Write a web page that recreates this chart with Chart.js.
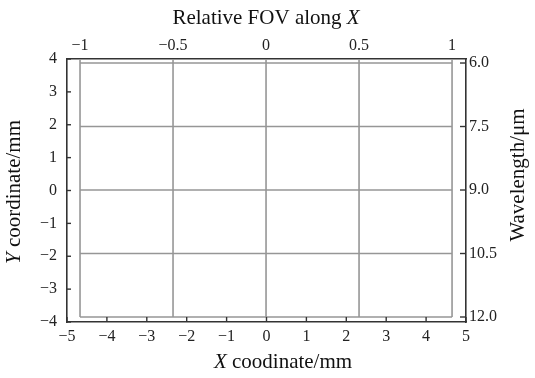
<!DOCTYPE html>
<html lang="en">
<head>
    <meta charset="UTF-8">
    <title>Relative FOV along X</title>
    <script src="https://cdn.jsdelivr.net/npm/chart.js"></script>
    <style>
        body { margin: 0; background: #fff; }
        #grafica { display: block; }
    </style>
</head>
<body>
    <canvas id="grafica" width="535" height="378"></canvas>
    <script>
        // tick values and labels
        const xTicks = [-5, -4, -3, -2, -1, 0, 1, 2, 3, 4, 5];
        const xLabels = ['−5', '−4', '−3', '−2', '−1', '0', '1', '2', '3', '4', '5'];
        const yTicks = [-4, -3, -2, -1, 0, 1, 2, 3, 4];
        const yLabels = ['−4', '−3', '−2', '−1', '0', '1', '2', '3', '4'];
        const fovTicks = [-1, -0.5, 0, 0.5, 1];
        const fovLabels = ['−1', '−0.5', '0', '0.5', '1'];
        const waveTicks = [6.0, 7.5, 9.0, 10.5, 12.0];
        const waveLabels = ['6.0', '7.5', '9.0', '10.5', '12.0'];

        const serif = '"Liberation Serif", "DejaVu Serif", serif';
        const tickFont = { family: serif, size: 16 };
        const dark = '#333', gray = '#969696';

        const setTicks = vals => s => { s.ticks = vals.map(v => ({ value: v })); };

        // inner grid box (top/right scales), inward tick marks, titles with italic letters
        const frame = {
            id: 'frame',
            afterDraw(chart) {
                const { ctx, chartArea: a, scales: { x, y, x2, y2 } } = chart;
                const ln = (x0, y0, x1, y1) => { ctx.beginPath(); ctx.moveTo(x0, y0); ctx.lineTo(x1, y1); ctx.stroke(); };
                ctx.save();
                const l = x2.getPixelForValue(fovTicks[0]), r = x2.getPixelForValue(fovTicks[fovTicks.length - 1]);
                const t = y2.getPixelForValue(waveTicks[0]), b = y2.getPixelForValue(waveTicks[waveTicks.length - 1]);
                ctx.strokeStyle = gray; ctx.lineWidth = 1.6;
                fovTicks.forEach(v => { const px = x2.getPixelForValue(v); ln(px, a.top, px, b); });
                waveTicks.forEach(v => { const py = y2.getPixelForValue(v); ln(l, py, r, py); });
                ctx.strokeStyle = dark; ctx.lineWidth = 1.4;
                yTicks.forEach(v => { const py = y.getPixelForValue(v); ln(a.left, py, a.left + 4, py); });
                xTicks.forEach(v => { const px = x.getPixelForValue(v); ln(px, a.bottom, px, a.bottom - 5); });
                waveTicks.forEach(v => { const py = y2.getPixelForValue(v); ln(a.right - 6, py, a.right, py); });

                ctx.fillStyle = '#111'; ctx.textBaseline = 'middle';
                const title = (parts, cx, cy, rot) => {
                    ctx.save(); ctx.translate(cx, cy); ctx.rotate(rot);
                    const fonts = parts.map(p => (p[1] ? 'italic ' : '') + '21px ' + serif);
                    const ws = parts.map((p, i) => { ctx.font = fonts[i]; return ctx.measureText(p[0]).width; });
                    let px = -ws.reduce((s, w) => s + w, 0) / 2;
                    parts.forEach((p, i) => { ctx.font = fonts[i]; ctx.textAlign = 'left'; ctx.fillText(p[0], px, 0); px += ws[i]; });
                    ctx.restore();
                };
                title([['Relative FOV along ', false], ['X', true]], 266, 18, 0);
                title([['X', true], [' coodinate/mm', false]], 283, 362, 0);
                title([['Y', true], [' coordinate/mm', false]], 14, 192, -Math.PI / 2);
                title([['Wavelength/μm', false]], 518, 175, -Math.PI / 2);
                ctx.restore();
            }
        };

        const axis = (extra) => Object.assign({
            type: 'linear',
            grid: { display: false, drawTicks: false },
            border: { display: true, color: dark, width: 1.6 },
        }, extra);

        new Chart(document.getElementById('grafica').getContext('2d'), {
            type: 'scatter',
            data: { datasets: [] },
            options: {
                responsive: false, animation: false,
                plugins: { legend: { display: false }, tooltip: { enabled: false } },
                scales: {
                    x: axis({ position: 'bottom', min: -5, max: 5, afterBuildTicks: setTicks(xTicks), afterFit: s => { s.height = 56; },
                        ticks: { font: tickFont, color: '#222', padding: 5, maxRotation: 0, autoSkip: false, callback: (v, i) => xLabels[i] } }),
                    y: axis({ position: 'left', min: -4, max: 4, afterBuildTicks: setTicks(yTicks), afterFit: s => { s.width = 67; },
                        ticks: { font: tickFont, color: '#222', padding: 10, autoSkip: false, callback: (v, i) => yLabels[i] } }),
                    x2: axis({ position: 'top', min: -1.07, max: 1.075, afterBuildTicks: setTicks(fovTicks), afterFit: s => { s.height = 59; },
                        ticks: { font: tickFont, color: '#222', padding: 4, maxRotation: 0, autoSkip: false, callback: (v, i) => fovLabels[i] } }),
                    y2: axis({ position: 'right', reverse: true, min: 5.905, max: 12.118, afterBuildTicks: setTicks(waveTicks), afterFit: s => { s.width = 69; },
                        ticks: { font: tickFont, color: '#222', padding: 3, autoSkip: false, callback: (v, i) => waveLabels[i] } })
                }
            },
            plugins: [frame]
        });
    </script>
</body>
</html>
